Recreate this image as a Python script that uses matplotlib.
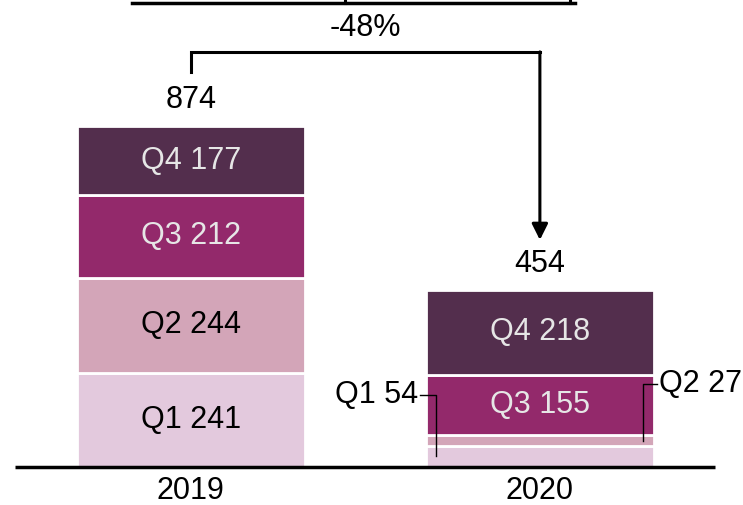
import matplotlib.pyplot as plt
import numpy as np

plt.rcParams['font.family'] = ['Liberation Sans', 'DejaVu Sans']

years = ['2019', '2020']
quarters = ['Q1', 'Q2', 'Q3', 'Q4']
q1 = [241, 54]
q2 = [244, 27]
q3 = [212, 155]
q4 = [177, 218]
totals = [874, 454]
change = '-48%'

colors = ['#e3c9dd', '#d3a5b8', '#93296b', '#532e4d']
text_colors = ['black', 'black', '#e6e6e6', '#e6e6e6']
fs = 22

fig = plt.figure(figsize=(7.43, 5.05), dpi=100)
ax = fig.add_axes([0, 0, 1, 1])
ax.set_xlim(-0.547, 1.582)
ax.set_ylim(-97.4, 1197)
ax.axis('off')

x = np.arange(len(years))
width = 0.653
bottom = np.zeros(len(years))
for i, vals in enumerate([q1, q2, q3, q4]):
    ax.bar(x, vals, width, bottom=bottom, color=colors[i],
           edgecolor='white', linewidth=2)
    for j, v in enumerate(vals):
        if v > 100:
            ax.text(x[j], bottom[j] + v / 2, f'{quarters[i]} {v}',
                    ha='center', va='center', fontsize=fs, color=text_colors[i])
    bottom += vals

# small segments of 2020 get leader lines
ax.plot([0.656, 0.702, 0.702], [184, 184, q1[1] / 2], color='black', lw=1)
ax.text(0.65, 184, f'Q1 {q1[1]}', ha='right', va='center', fontsize=fs)
ax.plot([1.335, 1.295, 1.295], [213, 213, q1[1] + q2[1] / 2], color='black', lw=1)
ax.text(1.34, 213, f'Q2 {q2[1]}', ha='left', va='center', fontsize=fs)

# totals
for j, t in enumerate(totals):
    ax.text(x[j], t + 67, str(t), ha='center', va='center', fontsize=fs)

# baseline
ax.plot([-0.504, 1.501], [0, 0], color='black', lw=2.5, solid_capstyle='butt')

# bracket with arrow
ax.plot([0, 0, 1], [1013, 1064, 1064], color='black', lw=2.2,
        solid_joinstyle='miter')
ax.annotate('', xy=(1, 582), xytext=(1, 1064),
            arrowprops=dict(arrowstyle='-|>', color='black', lw=2.2,
                            mutation_scale=24, shrinkA=0, shrinkB=0))
ax.text(0.5, 1125, change, ha='center', va='center', fontsize=fs)

# cut-off bracket at the top
ax.plot([-0.169, 1.100], [1190, 1190], color='black', lw=2.5)
ax.plot([0.441, 0.441], [1190, 1200], color='black', lw=2.2)
ax.plot([1.087, 1.087], [1190, 1200], color='black', lw=2.2)

# year labels
for j, y in enumerate(years):
    ax.text(x[j], -62, y, ha='center', va='center', fontsize=fs)

fig.savefig('out.png', dpi=100)
